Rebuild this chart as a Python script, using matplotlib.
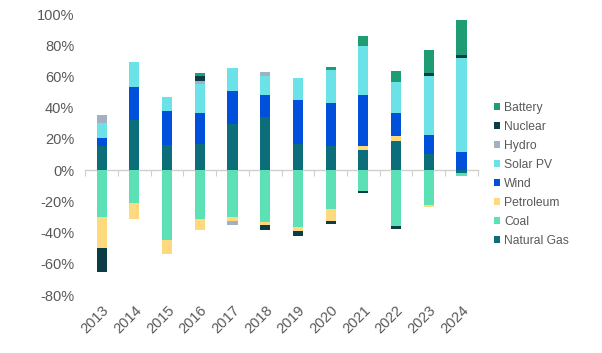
import matplotlib.pyplot as plt
import numpy as np

plt.rcParams['font.family'] = ['Liberation Sans', 'DejaVu Sans']

# data (% change)
years = ['2013', '2014', '2015', '2016', '2017', '2018',
         '2019', '2020', '2021', '2022', '2023', '2024']

natural_gas = [15.7, 32.4, 16.3, 17.0, 29.8, 34.1, 17.0, 15.7, 13.1, 18.5, 10.4, -1.6]
coal        = [-30.2, -21.0, -44.6, -31.3, -29.8, -33.4, -36.4, -24.9, -13.1, -35.6, -22.1, -2.4]
petroleum   = [-19.7, -10.3, -9.1, -6.8, -2.6, -2.0, -2.4, -7.7, 2.6, 3.2, -1.5, 0]
wind        = [4.7, 20.7, 21.6, 19.4, 21.0, 14.3, 28.2, 27.4, 32.7, 15.0, 12.4, 11.4]
solar_pv    = [9.8, 16.3, 9.0, 19.0, 14.7, 12.0, 13.9, 20.9, 31.0, 19.6, 37.8, 60.5]
hydro       = [5.4, 0, 0, 2.0, -3.0, 2.3, 0, 0, 0, 0, 0, 0]
nuclear     = [-15.4, 0, 0, 3.0, 0, -2.7, -3.2, -2.1, -1.8, -1.9, 1.7, 2.1]
battery     = [0, 0, 0, 2.0, 0, 0, 0, 1.9, 6.8, 7.0, 14.5, 22.3]

series = [
    ('Natural Gas', natural_gas, '#0b6e7a'),
    ('Coal', coal, '#5ce0b6'),
    ('Petroleum', petroleum, '#ffd97d'),
    ('Wind', wind, '#0050dc'),
    ('Solar PV', solar_pv, '#6ae2e8'),
    ('Hydro', hydro, '#a3b0c2'),
    ('Nuclear', nuclear, '#0a3d45'),
    ('Battery', battery, '#1e9c74'),
]

grey = '#595959'

fig = plt.figure(figsize=(6.02, 3.53), dpi=100)
ax = fig.add_axes([0.1417, 0.1643, 0.652, 0.796])

x = np.arange(len(years))
pos_bottom = np.zeros(len(years))
neg_bottom = np.zeros(len(years))
handles = []
for name, vals, col in series:
    v = np.array(vals, dtype=float)
    pos = np.where(v > 0, v, 0)
    neg = np.where(v < 0, v, 0)
    b = ax.bar(x, pos, 0.31, bottom=pos_bottom, color=col, label=name)
    ax.bar(x, neg, 0.31, bottom=neg_bottom, color=col)
    pos_bottom += pos
    neg_bottom += neg
    handles.append(b)

ax.set_xlim(-0.5, len(years) - 0.5)
ax.set_ylim(-80, 100)
ax.set_yticks(np.arange(-80, 101, 20))
ax.set_yticklabels(['%d%%' % t for t in np.arange(-80, 101, 20)])
ax.set_xticks(x)
ax.set_xticklabels(years, rotation=45, ha='right', rotation_mode='anchor')
ax.tick_params(axis='both', length=0, colors=grey, labelsize=10.5)
ax.tick_params(axis='x', pad=6)
ax.tick_params(axis='y', pad=8)
for s in ax.spines.values():
    s.set_visible(False)

# category axis line at zero with boundary tick marks
sec = ax.secondary_xaxis(0, transform=ax.transData)
sec.set_xticks(np.arange(-0.5, len(years), 1))
sec.tick_params(axis='x', direction='out', length=4, color='#d0d0d0', labelbottom=False)
sec.spines['bottom'].set_color('#d0d0d0')
sec.spines['bottom'].set_linewidth(1.0)

fig.legend(handles=handles[::-1], loc='upper left', bbox_to_anchor=(0.803, 0.742),
           frameon=False, fontsize=8.7, labelcolor=grey, handlelength=0.5,
           handleheight=0.5, handletextpad=0.3, labelspacing=0.58)

fig.savefig('out.png', dpi=100)
